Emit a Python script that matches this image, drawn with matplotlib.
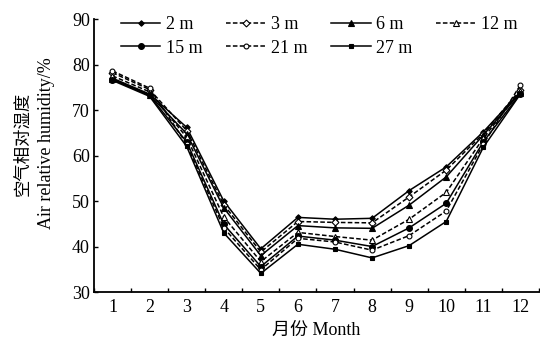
import matplotlib
matplotlib.use("Agg")
import matplotlib.pyplot as plt
import numpy as np

months = [1, 2, 3, 4, 5, 6, 7, 8, 9, 10, 11, 12]
month_labels = ["1", "2", "3", "4", "5", "6", "7", "8", "9", "10", "11", "12"]
depth_labels = ["2 m", "3 m", "6 m", "12 m", "15 m", "21 m", "27 m"]

h_2m  = [77.0, 73.5, 66.2, 50.0, 39.5, 46.4, 46.0, 46.2, 52.3, 57.5, 65.2, 74.0]
h_3m  = [78.2, 74.5, 65.5, 49.2, 38.8, 45.5, 45.3, 45.2, 50.9, 56.8, 64.8, 74.5]
h_6m  = [76.8, 73.3, 64.8, 48.5, 38.0, 44.6, 44.1, 44.0, 49.1, 55.3, 64.5, 73.8]
h_12m = [77.5, 74.0, 64.0, 46.5, 36.7, 43.1, 42.2, 41.4, 46.0, 51.9, 63.8, 74.2]
h_15m = [76.7, 73.2, 63.0, 44.9, 35.6, 42.3, 41.4, 40.0, 44.1, 49.5, 63.0, 73.6]
h_21m = [78.6, 74.8, 62.5, 44.1, 34.9, 41.8, 41.0, 39.2, 42.4, 47.8, 62.5, 75.5]
h_27m = [76.5, 73.0, 62.0, 43.0, 34.1, 40.5, 39.4, 37.5, 40.2, 45.5, 61.8, 73.5]

series = [h_2m, h_3m, h_6m, h_12m, h_15m, h_21m, h_27m]
styles = [
    dict(ls="-", marker="D", mfc="black", ms=2.8),
    dict(ls="--", marker="D", mfc="white", ms=3.5),
    dict(ls="-", marker="^", mfc="black", ms=4),
    dict(ls="--", marker="^", mfc="white", ms=4.5),
    dict(ls="-", marker="o", mfc="black", ms=4.2),
    dict(ls="--", marker="o", mfc="white", ms=3.5),
    dict(ls="-", marker="s", mfc="black", ms=3.3),
]

plt.rcParams["font.family"] = ["Liberation Serif", "Noto Sans CJK SC"]
plt.rcParams["axes.unicode_minus"] = False

fig = plt.figure(figsize=(5.4, 3.46), dpi=100)
ax = fig.add_axes([0.174, 0.156, 0.824, 0.789])

handles = []
for vals, lab, st in zip(series, depth_labels, styles):
    kw = dict(color="black", lw=1.1, marker=st["marker"], mfc=st["mfc"], mec="black",
              mew=0.8, ms=st["ms"], label=lab)
    if st["ls"] == "--":
        kw["dashes"] = (3, 1.5)
    else:
        kw["ls"] = "-"
    h, = ax.plot(months, vals, **kw)
    handles.append(h)

ax.set_xlim(0.5, 12.5)
ax.set_ylim(30, 90)
ax.set_xticks(months)
ax.set_xticklabels(month_labels, fontsize=13)
ax.set_xticks(np.arange(0.5, 13, 1), minor=True)
ax.tick_params(axis="x", which="major", length=0, pad=5)
ax.tick_params(axis="x", which="minor", direction="in", length=3, width=1)
ax.set_yticks(np.arange(30, 91, 10))
ax.tick_params(axis="y", direction="in", length=3, width=1, labelsize=13, pad=3)

for s in ["top", "right"]:
    ax.spines[s].set_visible(False)
for s in ["left", "bottom"]:
    ax.spines[s].set_linewidth(1.3)

ax.set_xlabel("月份 Month", fontsize=13, labelpad=4,
              family=["Noto Sans CJK SC", "Liberation Serif"])
ax.xaxis.label.set_family(["Liberation Serif", "Noto Sans CJK SC"])
fig.text(0.042, 0.585, "空气相对湿度", rotation=90, ha="center", va="center",
         fontsize=12.5, family=["Noto Sans CJK SC"])
fig.text(0.086, 0.585, "Air relative humidity/%", rotation=90, ha="center", va="center",
         fontsize=13, family=["Liberation Serif"])

# column-major order so rows read 2,3,6,12 / 15,21,27
order = [0, 4, 1, 5, 2, 6, 3]
leg = ax.legend([handles[i] for i in order], [depth_labels[i] for i in order],
                ncol=4, loc="upper left", bbox_to_anchor=(0.06, 1.01), frameon=False,
                fontsize=13, handlelength=2.2, handletextpad=0.3, columnspacing=1.3,
                labelspacing=0.35, borderaxespad=0, borderpad=0)

fig.savefig("out.png", dpi=100)
